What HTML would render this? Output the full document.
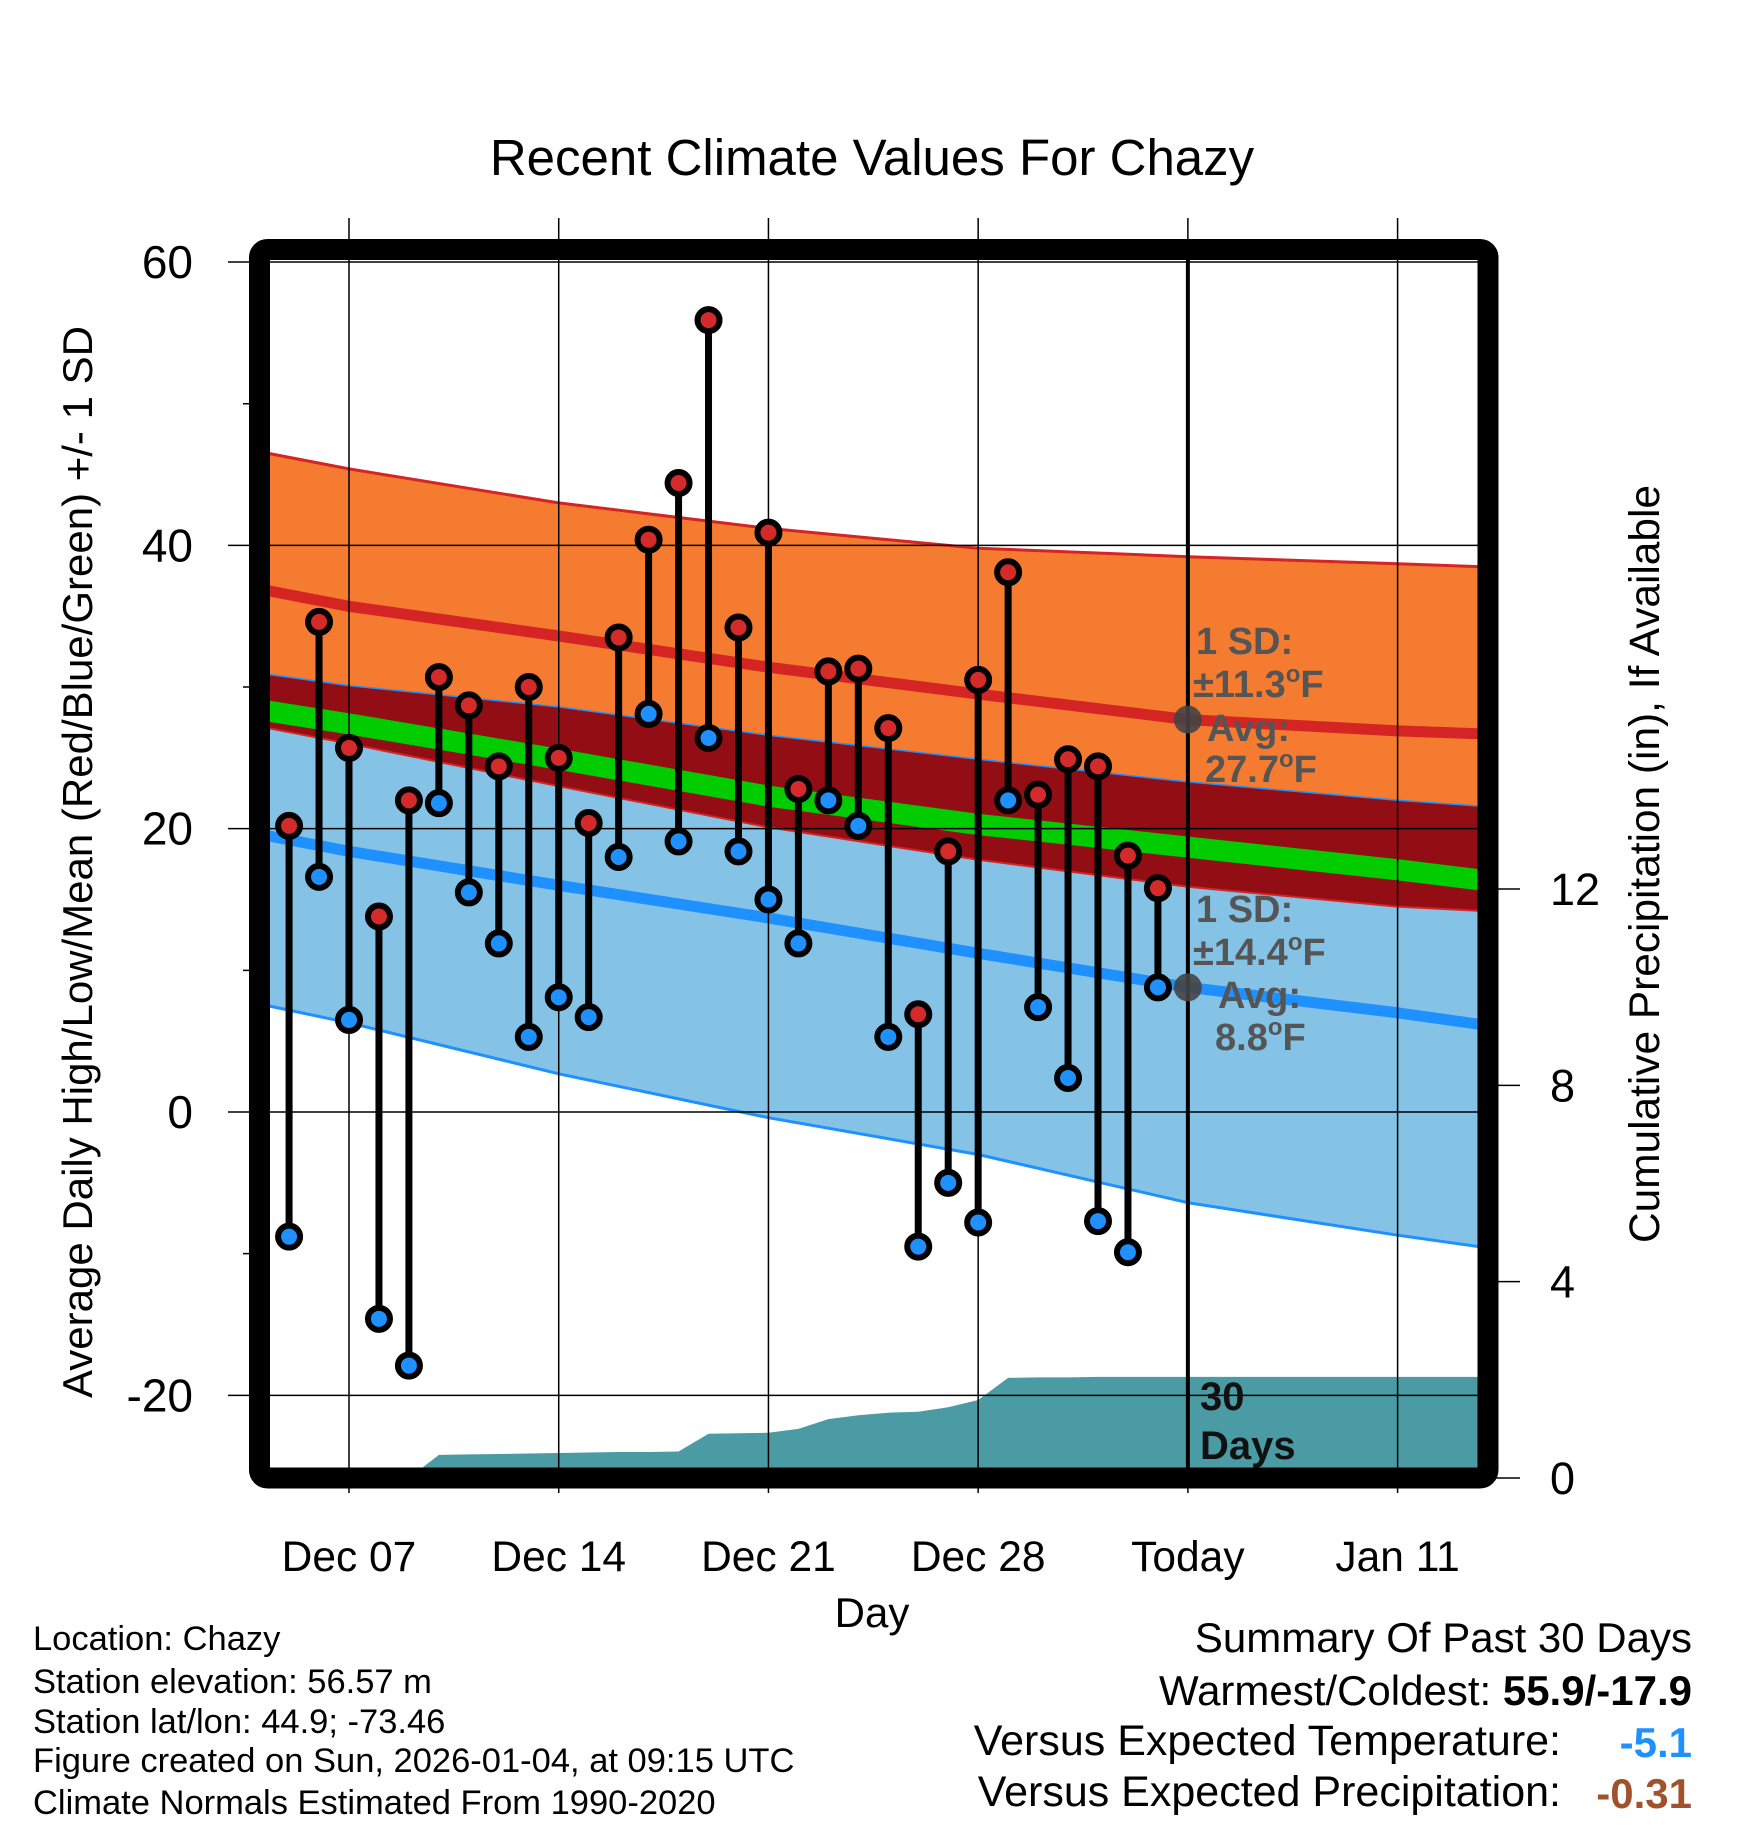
<!DOCTYPE html>
<html><head><meta charset="utf-8">
<style>
html,body{margin:0;padding:0;background:#fff;}
svg{display:block;font-family:"Liberation Sans",Arial,sans-serif;}
</style></head>
<body>
<svg id="chart" width="1748" height="1828" viewBox="0 0 1748 1828" xmlns="http://www.w3.org/2000/svg">
<defs><clipPath id="plotclip"><rect x="270" y="260" width="1208" height="1208"/></clipPath></defs>
<rect x="0" y="0" width="1748" height="1828" fill="#fff"/>
<g id="bands" clip-path="url(#plotclip)"></g>
<g id="grid"></g>
<g id="marks"></g>
<g id="frame"></g>
<g id="labels"></g>
</svg>
<script>
// ---- data ----
const dayLabels = ["Dec 05","Dec 06","Dec 07","Dec 08","Dec 09","Dec 10","Dec 11","Dec 12","Dec 13","Dec 14","Dec 15","Dec 16","Dec 17","Dec 18","Dec 19","Dec 20","Dec 21","Dec 22","Dec 23","Dec 24","Dec 25","Dec 26","Dec 27","Dec 28","Dec 29","Dec 30","Dec 31","Jan 01","Jan 02","Jan 03"];
const dayOffsets = [-2,-1,0,1,2,3,4,5,6,7,8,9,10,11,12,13,14,15,16,17,18,19,20,21,22,23,24,25,26,27];
const highs = [20.2,34.6,25.7,13.8,22.0,30.7,28.7,24.4,30.0,25.0,20.4,33.5,40.4,44.4,55.9,34.2,40.9,22.8,31.1,31.3,27.1,6.9,18.4,30.5,38.1,22.4,24.9,24.4,18.1,15.8];
const lows = [-8.8,16.6,6.5,-14.6,-17.9,21.8,15.5,11.9,5.3,8.1,6.7,18.0,28.1,19.1,26.4,18.4,15.0,11.9,22.0,20.2,5.3,-9.5,-5.0,-7.8,22.0,7.4,2.4,-7.7,-9.9,8.8];
const precipCum = [0,0,0,0,0,0.47,0.48,0.49,0.50,0.51,0.52,0.53,0.53,0.54,0.90,0.91,0.92,1.00,1.20,1.28,1.33,1.35,1.44,1.59,2.04,2.05,2.05,2.06,2.06,2.06];
// climate normals sampled at day offsets
const normDays = [-2.7,0,7,14,21,28,35,37.7];
const highUpper = [46.5,45.4,43.0,41.2,39.8,39.2,38.7,38.5];
const highMean = [36.8,35.7,33.6,31.4,29.5,27.7,26.9,26.7];
const highLower = [30.9,30.1,28.6,26.6,24.9,23.3,22.0,21.6];
const avgMean = [28.3,27.4,24.9,22.3,20.3,18.7,17.1,16.4];
const lowUpper = [27.1,26.0,23.0,20.1,17.8,15.9,14.5,14.2];
const lowMean = [19.5,18.4,16.0,13.7,11.2,8.8,7.0,6.2];
const lowLower = [7.5,6.3,2.7,-0.4,-3.0,-6.4,-8.7,-9.5];
const yTicks = [60,40,20,0,-20];
const yMinor = [50,30,10,-10];
const precipTicks = [0,4,8,12];
const xTickDays = [0,7,14,21,28,35];
const xTickLabels = ["Dec 07","Dec 14","Dec 21","Dec 28","Today","Jan 11"];
const todayDay = 28;

// ---- scales ----
const NS = "http://www.w3.org/2000/svg";
const X0 = 270, X1 = 1478, Y0 = 260, Y1 = 1468;
function xs(d){ return 349 + d*29.96; }
function ys(v){ return 1112 - v*14.166; }
function ps(p){ return 1478 - p*49.08; }
function mk(tag, attrs, parent){ const e=document.createElementNS(NS,tag); for(const k in attrs) e.setAttribute(k,attrs[k]); parent.appendChild(e); return e; }

const bands = document.getElementById('bands');
const grid = document.getElementById('grid');
const marks = document.getElementById('marks');
const frame = document.getElementById('frame');
const labels = document.getElementById('labels');

function linePts(arr){ return normDays.map((d,i)=>xs(d).toFixed(1)+","+ys(arr[i]).toFixed(1)); }
function bandPath(top,bot){
  const a=linePts(top), b=linePts(bot).reverse();
  return "M"+a.join(" L")+" L"+b.join(" L")+" Z";
}
function polyline(arr){ return "M"+linePts(arr).join(" L"); }
function shiftArr(arr,dv){ return arr.map(v=>v+dv); }

let e;
e = mk('path',{d:bandPath(lowUpper,lowLower),fill:'#84c2e6'},bands);
 
e = mk('path',{d:bandPath(highUpper,highLower),fill:'#f47b2f'},bands);
 
e = mk('path',{d:bandPath(highLower,lowUpper),fill:'#930e14'},bands);
 
e = mk('path',{d:bandPath(shiftArr(avgMean,0.75),shiftArr(avgMean,-0.75)),fill:'#00cc00'},bands);
 
e = mk('path',{d:polyline(highUpper),fill:'none',stroke:'#d42424','stroke-width':3},bands);
 
e = mk('path',{d:polyline(highMean),fill:'none',stroke:'#d42424','stroke-width':11},bands);
 
e = mk('path',{d:polyline(highLower),fill:'none',stroke:'#1e90ff','stroke-width':1.5},bands);
 
e = mk('path',{d:polyline(lowUpper),fill:'none',stroke:'#d42424','stroke-width':2},bands);
 
e = mk('path',{d:polyline(lowMean),fill:'none',stroke:'#1e90ff','stroke-width':11},bands);
 
e = mk('path',{d:polyline(lowLower),fill:'none',stroke:'#1e90ff','stroke-width':3},bands);
 

{
  let d = "M"+xs(-3)+","+ps(0);
  d += " L"+xs(-3)+","+ps(precipCum[0]);
  dayOffsets.forEach((dd,i)=>{ d += " L"+xs(dd).toFixed(1)+","+ps(precipCum[i]).toFixed(1); });
  d += " L"+X1+","+ps(precipCum[precipCum.length-1]).toFixed(1)+" L"+X1+","+ps(0)+" Z";
  e = mk('path',{d:d,fill:'#4a9ba3'},bands);
   
}

yTicks.forEach(v=>{
  e = mk('line',{x1:228,x2:X1,y1:ys(v),y2:ys(v),stroke:'#000','stroke-width':1.5},grid);
   
});
yMinor.forEach(v=>{
  e = mk('line',{x1:243,x2:262,y1:ys(v),y2:ys(v),stroke:'#000','stroke-width':1.5},grid);
   
});
xTickDays.forEach(d=>{
  e = mk('line',{x1:xs(d),x2:xs(d),y1:218,y2:1493,stroke:'#000','stroke-width':1.5},grid);
   
});
precipTicks.forEach(p=>{
  e = mk('line',{x1:1488,x2:1520,y1:ps(p),y2:ps(p),stroke:'#000','stroke-width':1.5},grid);
   
});
e = mk('line',{x1:xs(todayDay),x2:xs(todayDay),y1:Y0,y2:Y1,stroke:'#000','stroke-width':4},grid);
 

dayOffsets.forEach((d,i)=>{
  const x = xs(d);
  e = mk('line',{x1:x,x2:x,y1:ys(highs[i]),y2:ys(lows[i]),stroke:'#000','stroke-width':7},marks);
   
});
dayOffsets.forEach((d,i)=>{
  const x = xs(d);
  e = mk('circle',{cx:x,cy:ys(lows[i]),r:11,fill:'#1e90ff',stroke:'#000','stroke-width':6},marks);
   
  e = mk('circle',{cx:x,cy:ys(highs[i]),r:11,fill:'#d42a2a',stroke:'#000','stroke-width':6},marks);
   
});
e = mk('circle',{cx:xs(todayDay),cy:ys(highMean[5]),r:14,fill:'#444','fill-opacity':0.9},marks);
 
e = mk('circle',{cx:xs(todayDay),cy:ys(lowMean[5]),r:14,fill:'#444','fill-opacity':0.9},marks);
 

e = mk('rect',{x:259.5,y:249.5,width:1228.5,height:1228.5,rx:8,fill:'none',stroke:'#000','stroke-width':21},frame);
 

function txt(s,x,y,attrs,name){
  const t = mk('text',Object.assign({x:x,y:y},attrs),labels);
  t.textContent = s;
  
  
  return t;
}
function degTxt(pre,post,x,y,attrs,name){
  const t = txt(pre,x,y,attrs,name);
  const o = document.createElementNS(NS,'tspan'); o.setAttribute('font-size','24'); o.setAttribute('dy','-15'); o.textContent='o'; t.appendChild(o);
  const f = document.createElementNS(NS,'tspan'); f.setAttribute('dy','15'); f.textContent=post; t.appendChild(f);
  return t;
}
yTicks.forEach(v=>{ txt(String(v),193,ys(v)+16,{'font-size':46,'text-anchor':'end'},'y-tick-label'); });
precipTicks.forEach(p=>{ txt(String(p),1550,ps(p)+16,{'font-size':45},'precip-tick-label'); });
xTickDays.forEach((d,i)=>{ txt(xTickLabels[i],xs(d),1571,{'font-size':42.5,'text-anchor':'middle'},'x-tick-label'); });
txt("Recent Climate Values For Chazy",872,175,{'font-size':51,'text-anchor':'middle'},'chart-title');
txt("Day",872,1627,{'font-size':42,'text-anchor':'middle'},'x-axis-title');
txt("Average Daily High/Low/Mean (Red/Blue/Green) +/- 1 SD",0,0,{'font-size':42,'text-anchor':'middle',transform:'translate(92,862) rotate(-90)'},'y-axis-title');
txt("Cumulative Precipitation (in), If Available",0,0,{'font-size':42.4,'text-anchor':'middle',transform:'translate(1659,864) rotate(-90)'},'precip-axis-title');
const ann = {'font-size':38,'font-weight':'bold',fill:'#555'};
txt("1 SD:",1196,654,ann,'high-sd-label');
degTxt("±11.3","F",1193,697,ann,'high-sd-value');
txt("Avg:",1207,741,ann,'high-avg-label');
degTxt("27.7","F",1205,782,ann,'high-avg-value');
txt("1 SD:",1196,922,ann,'low-sd-label');
degTxt("±14.4","F",1193,965,ann,'low-sd-value');
txt("Avg:",1218,1008,ann,'low-avg-label');
degTxt("8.8","F",1215,1050,ann,'low-avg-value');
txt("30",1200,1410,{'font-size':40,'font-weight':'bold',fill:'#111'},'days-label-number');
txt("Days",1200,1459,{'font-size':40,'font-weight':'bold',fill:'#111'},'days-label-text');
const info = ["Location: Chazy","Station elevation: 56.57 m","Station lat/lon: 44.9; -73.46","Figure created on Sun, 2026-01-04, at 09:15 UTC","Climate Normals Estimated From 1990-2020"];
const infoY = [1650,1693,1733,1772,1814];
info.forEach((s,i)=>{ txt(s,33,infoY[i],{'font-size':34.5},'station-info-line'); });
txt("Summary Of Past 30 Days",1692,1652,{'font-size':42,'text-anchor':'end'},'summary-title');
{
  const t = txt("Warmest/Coldest: ",1692,1705,{'font-size':42,'text-anchor':'end'},'warmest-coldest');
  const b = document.createElementNS(NS,'tspan'); b.setAttribute('font-weight','bold'); b.textContent="55.9/-17.9"; t.appendChild(b);
}
txt("Versus Expected Temperature:",1561,1755,{'font-size':43,'text-anchor':'end'},'temp-anomaly-label');
txt("-5.1",1692,1757,{'font-size':42,'font-weight':'bold','text-anchor':'end',fill:'#1e90ff'},'temp-anomaly-value');
txt("Versus Expected Precipitation:",1561,1806,{'font-size':43,'text-anchor':'end'},'precip-anomaly-label');
txt("-0.31",1692,1808,{'font-size':42,'font-weight':'bold','text-anchor':'end',fill:'#a0522d'},'precip-anomaly-value');
</script>
</body></html>
